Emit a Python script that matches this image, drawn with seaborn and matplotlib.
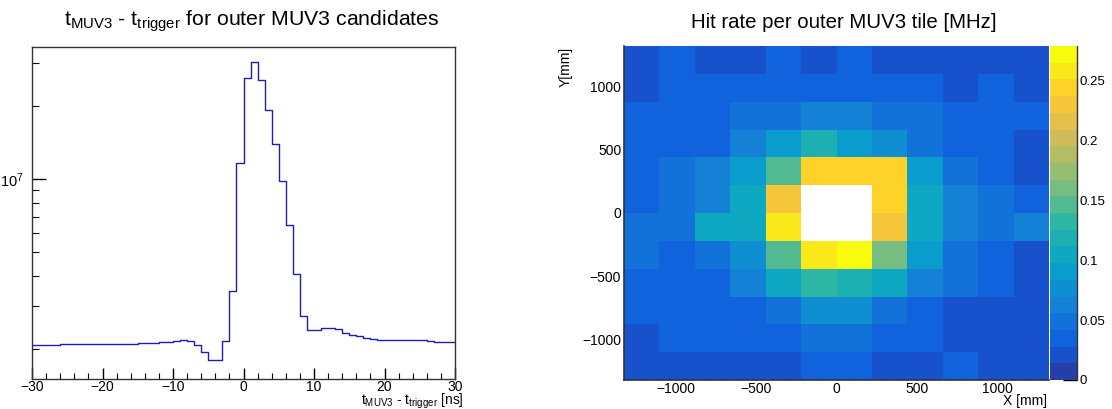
import numpy as np
import pandas as pd
import matplotlib
matplotlib.use("Agg")
import matplotlib.pyplot as plt
import seaborn as sns
from matplotlib.colors import ListedColormap, BoundaryNorm, LinearSegmentedColormap
from matplotlib.ticker import FixedLocator, LogLocator, MultipleLocator, NullFormatter

# ----------------------------------
# Data
# ----------------------------------

# t_MUV3 - t_trigger histogram, 1 ns bins from -30 to 30 ns (counts)
t_edges = np.arange(-30, 31, 1)
t_counts_e6 = [
    2.08, 2.08, 2.08, 2.08, 2.09, 2.09, 2.09, 2.09, 2.09, 2.09,   # -30 .. -21
    2.10, 2.10, 2.10, 2.10, 2.10, 2.11, 2.11, 2.12, 2.13, 2.14,   # -20 .. -11
    2.16, 2.175, 2.155, 2.08, 1.93, 1.79, 1.79, 2.155, 3.46, 11.6,  # -10 .. -1
    26.0, 30.5, 25.5, 19.2, 13.9, 9.84, 6.46, 4.05, 2.73, 2.38,   # 0 .. 9
    2.39, 2.445, 2.445, 2.40, 2.33, 2.28, 2.25, 2.21, 2.19, 2.175,  # 10 .. 19
    2.17, 2.17, 2.17, 2.17, 2.17, 2.175, 2.16, 2.14, 2.14, 2.14,  # 20 .. 29
]
t_counts = np.array(t_counts_e6) * 1e6

# hit rate per outer MUV3 tile [MHz], rows from top (Y>0) to bottom
# nan = central tiles (not outer)
nan = np.nan
rate_rows = [
    [0.021, 0.035, 0.021, 0.021, 0.035, 0.021, 0.035, 0.021, 0.021, 0.021, 0.021, 0.021],
    [0.021, 0.035, 0.035, 0.035, 0.035, 0.035, 0.035, 0.035, 0.035, 0.021, 0.035, 0.021],
    [0.035, 0.035, 0.035, 0.049, 0.049, 0.063, 0.063, 0.049, 0.049, 0.035, 0.035, 0.035],
    [0.035, 0.035, 0.035, 0.063, 0.091, 0.119, 0.091, 0.077, 0.049, 0.035, 0.035, 0.021],
    [0.035, 0.049, 0.063, 0.091, 0.147, 0.244, 0.244, 0.244, 0.091, 0.049, 0.035, 0.021],
    [0.035, 0.049, 0.063, 0.105, 0.230, nan,   nan,   0.244, 0.105, 0.063, 0.049, 0.035],
    [0.049, 0.049, 0.105, 0.105, 0.258, nan,   nan,   0.230, 0.105, 0.063, 0.049, 0.063],
    [0.049, 0.035, 0.049, 0.077, 0.147, 0.258, 0.279, 0.161, 0.091, 0.049, 0.035, 0.021],
    [0.035, 0.035, 0.035, 0.063, 0.105, 0.133, 0.119, 0.105, 0.063, 0.049, 0.035, 0.021],
    [0.035, 0.035, 0.035, 0.035, 0.049, 0.077, 0.077, 0.049, 0.035, 0.021, 0.021, 0.021],
    [0.021, 0.035, 0.035, 0.035, 0.035, 0.049, 0.049, 0.035, 0.035, 0.021, 0.021, 0.021],
    [0.021, 0.021, 0.021, 0.021, 0.021, 0.035, 0.035, 0.021, 0.021, 0.035, 0.021, 0.021],
]

tile_size = 220
n_tiles = 12
half_size = n_tiles * tile_size / 2

xy_major = [-1000, -500, 0, 500, 1000]
cbar_ticks = [0, 0.05, 0.1, 0.15, 0.2, 0.25]

# ----------------------------------
# Style
# ----------------------------------

sns.set_theme(style="ticks")
plt.rcParams["font.family"] = ["Liberation Sans", "DejaVu Sans"]
plt.rcParams["mathtext.fontset"] = "custom"
plt.rcParams["mathtext.rm"] = "Liberation Sans"
plt.rcParams["mathtext.it"] = "Liberation Sans:italic"
plt.rcParams["mathtext.bf"] = "Liberation Sans:bold"
for key in ["text.color", "axes.labelcolor", "xtick.color", "ytick.color"]:
    plt.rcParams[key] = "black"

line_color = "#1f1fae"
frame_color = "#333333"

# ROOT kBird palette, 20 contour bands
bird_stops = [0.0, 0.125, 0.25, 0.375, 0.5, 0.625, 0.75, 0.875, 1.0]
bird_r = [0.2082, 0.0592, 0.0780, 0.0232, 0.1802, 0.5301, 0.8186, 0.9956, 0.9764]
bird_g = [0.1664, 0.3599, 0.5041, 0.6419, 0.7178, 0.7492, 0.7328, 0.7862, 0.9832]
bird_b = [0.5293, 0.8684, 0.8385, 0.7914, 0.6425, 0.4662, 0.3499, 0.1968, 0.0539]
bird = LinearSegmentedColormap.from_list(
    "bird", list(zip(bird_stops, zip(bird_r, bird_g, bird_b)))
)
n_bands = 20
band_cmap = ListedColormap([bird(min((i + 0.99) / n_bands, 1.0)) for i in range(n_bands)])
rate_max = np.nanmax(np.array(rate_rows))
band_norm = BoundaryNorm(np.linspace(0, rate_max, n_bands + 1), n_bands)

# ----------------------------------
# Figure
# ----------------------------------

fig = plt.figure(figsize=(11.12, 4.09), dpi=100)
W, H = 1112, 409


def px_axes(x0, y0, x1, y1):
    return fig.add_axes([x0 / W, 1 - y1 / H, (x1 - x0) / W, (y1 - y0) / H])


ax1 = px_axes(32, 47, 455, 379)
ax2 = px_axes(624, 46, 1049, 380)
cax = px_axes(1050, 46, 1077, 380)

# ----------------------------------
# Left: time histogram
# ----------------------------------

hist_df = pd.DataFrame({
    "t": t_edges[:-1] + 0.5,
    "n": t_counts,
})
sns.histplot(
    data=hist_df,
    x="t",
    weights="n",
    binwidth=1,
    binrange=(t_edges[0], t_edges[-1]),
    element="step",
    fill=False,
    color=line_color,
    linewidth=1.0,
    ax=ax1,
)
ax1.set_yscale("log")
ax1.set_xlim(-30, 30)
ax1.set_ylim(1.5e6, 3.5e7)
ax1.set_xlabel("")
ax1.set_ylabel("")

ax1.xaxis.set_major_locator(MultipleLocator(10))
ax1.xaxis.set_minor_locator(MultipleLocator(2))
ax1.yaxis.set_major_locator(LogLocator(base=10))
ax1.yaxis.set_minor_locator(LogLocator(base=10, subs=np.arange(2, 10)))
ax1.yaxis.set_minor_formatter(NullFormatter())
ax1.tick_params(axis="x", which="major", direction="in", length=8, width=1, labelsize=10, pad=1)
ax1.tick_params(axis="x", which="minor", direction="in", length=4, width=0.8)
ax1.tick_params(axis="y", which="major", direction="in", length=10, width=1, labelsize=10.5, pad=6)
ax1.tick_params(axis="y", which="minor", direction="in", length=5, width=0.8)
for s in ax1.spines.values():
    s.set_visible(True)
    s.set_color(frame_color)
    s.set_linewidth(1.0)

fig.text(252 / W, 1 - 26 / H,
         r"t$_{\mathrm{MUV3}}$ - t$_{\mathrm{trigger}}$ for outer MUV3 candidates",
         ha="center", va="baseline", fontsize=15.3)
fig.text(464 / W, 1 - 404.5 / H,
         r"t$_{\mathrm{MUV3}}$ - t$_{\mathrm{trigger}}$ [ns]",
         ha="right", va="baseline", fontsize=10)

# ----------------------------------
# Right: tile hit rate map
# ----------------------------------

rate_df = pd.DataFrame(rate_rows)

sns.heatmap(
    rate_df,
    ax=ax2,
    cbar_ax=cax,
    cmap=band_cmap,
    norm=band_norm,
    xticklabels=False,
    yticklabels=False,
    cbar_kws={"ticks": cbar_ticks},
)


def x_pos(mm):
    return (np.asarray(mm) + half_size) / tile_size


def y_pos(mm):
    return (half_size - np.asarray(mm)) / tile_size


def mm_label(v):
    return str(v).replace("-", "\u2212")


minor_mm = np.arange(-1300, 1301, 100)
ax2.xaxis.set_major_locator(FixedLocator(x_pos(xy_major)))
ax2.xaxis.set_minor_locator(FixedLocator(x_pos(minor_mm)))
ax2.set_xticklabels([mm_label(v) for v in xy_major])
ax2.yaxis.set_major_locator(FixedLocator(y_pos(xy_major)))
ax2.yaxis.set_minor_locator(FixedLocator(y_pos(minor_mm)))
ax2.set_yticklabels([mm_label(v) for v in xy_major], rotation=0)
ax2.tick_params(axis="x", which="major", direction="in", length=6.5, width=1,
                labelsize=10, pad=1.5, bottom=True)
ax2.tick_params(axis="x", which="minor", direction="in", length=3.5, width=0.8, bottom=True)
ax2.tick_params(axis="y", which="major", direction="in", length=10.5, width=1,
                labelsize=10, pad=2, left=True)
ax2.tick_params(axis="y", which="minor", direction="in", length=5, width=0.8, left=True)
for s in ["left", "bottom"]:
    ax2.spines[s].set_visible(True)
    ax2.spines[s].set_color(frame_color)
    ax2.spines[s].set_linewidth(1.2)
ax2.set_xlabel("")
ax2.set_ylabel("")

cax.yaxis.set_ticks_position("right")
cax.set_yticklabels([f"{v:g}" for v in cbar_ticks])
cax.tick_params(axis="y", which="major", direction="in", length=10, width=1,
                labelsize=9.5, pad=2, right=True, left=False)
cax.tick_params(axis="y", which="minor", length=0)
cax.plot([1, 1], [0, 1], transform=cax.transAxes, color=frame_color, lw=1.0, clip_on=False)

fig.text(844 / W, 1 - 27.5 / H, "Hit rate per outer MUV3 tile [MHz]",
         ha="center", va="baseline", fontsize=14.7)
fig.text(1047 / W, 1 - 405.5 / H, "X [mm]", ha="right", va="baseline", fontsize=10)
fig.text(566 / W, 1 - 47 / H, "Y[mm]", ha="center", va="top", rotation=90, fontsize=10)

fig.savefig("out.png", dpi=100)
plt.close(fig)
